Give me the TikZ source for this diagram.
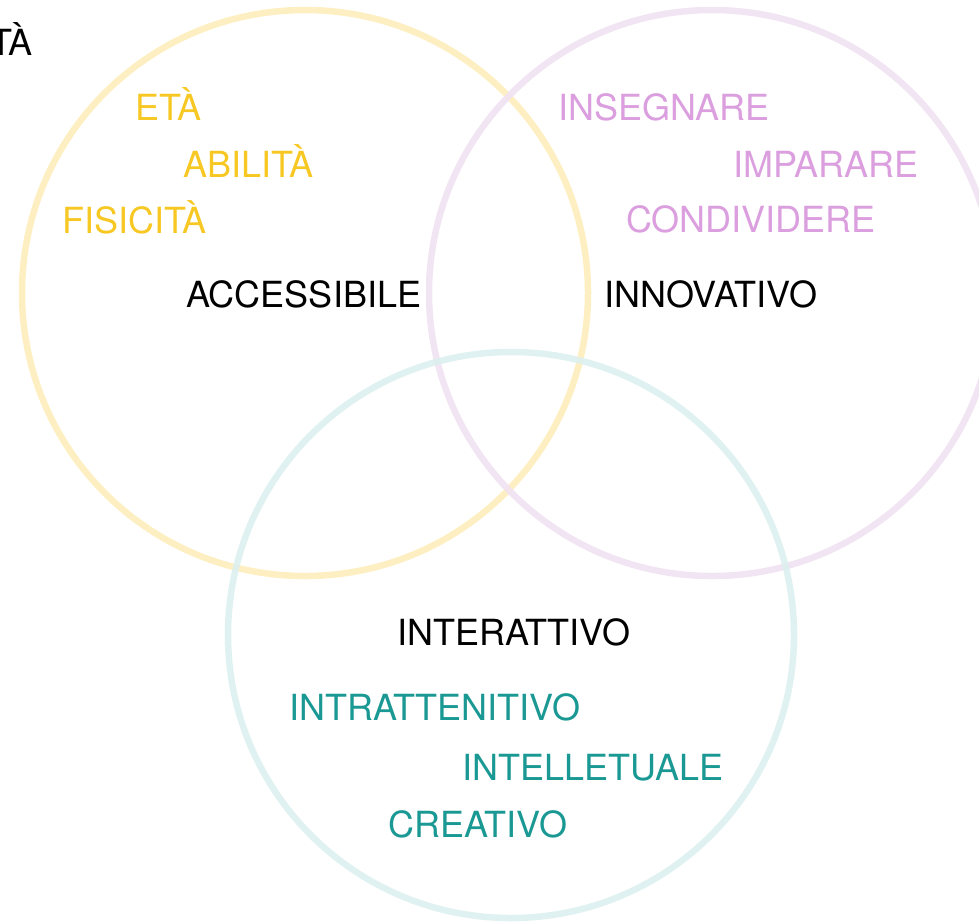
\documentclass[tikz,border=0pt]{standalone}
\usepackage{fontspec}
\setmainfont{TeX Gyre Heros}
\usepackage{tikz}

\definecolor{sunring}{HTML}{FDEFC2}
\definecolor{sunword}{HTML}{F7C823}
\definecolor{lilacring}{HTML}{F1E2F2}
\definecolor{lilacword}{HTML}{DB9EDE}
\definecolor{tealring}{HTML}{DDF0EF}
\definecolor{tealword}{HTML}{1A9893}

\tikzset{
    ring/.style={line width=6.5pt},
    word/.style={anchor=base west, inner sep=0pt, font=\fontsize{36}{42}\selectfont}
}

\begin{document}
\begin{tikzpicture}[x=1pt,y=1pt]
    \useasboundingbox (0,0) rectangle (979,-922);
    % Draw the three rings
    \draw[ring, sunring] (305,-293) circle (283);
    \draw[ring, lilacring, opacity=0.9] (712,-293) circle (283);
    \draw[ring, tealring, opacity=0.9] (511,-635) circle (283);
    % cut word in the corner
    \node[word, anchor=base east] (cut) at (33,-55) {TÀ};
    % accessibile
    \node[word, sunword] (eta) at (135,-120) {ETÀ};
    \node[word, sunword] (abilita) at (183,-177) {ABILITÀ};
    \node[word, sunword] (fisicita) at (62,-233) {FISICITÀ};
    \node[word] (accessibile) at (186,-307) {ACCESSIBILE};
    % innovativo
    \node[word, lilacword] (insegnare) at (558,-120) {INSEGNARE};
    \node[word, lilacword] (imparare) at (733,-177) {IMPARARE};
    \node[word, lilacword] (condividere) at (626,-232) {CONDIVIDERE};
    \node[word] (innovativo) at (604,-307) {INNOVATIVO};
    % interattivo
    \node[word] (interattivo) at (397,-645) {INTERATTIVO};
    \node[word, tealword] (intrattenitivo) at (289,-720) {INTRATTENITIVO};
    \node[word, tealword] (intelletuale) at (462,-780) {INTELLETUALE};
    \node[word, tealword] (creativo) at (388,-837) {CREATIVO};
\end{tikzpicture}
\end{document}
